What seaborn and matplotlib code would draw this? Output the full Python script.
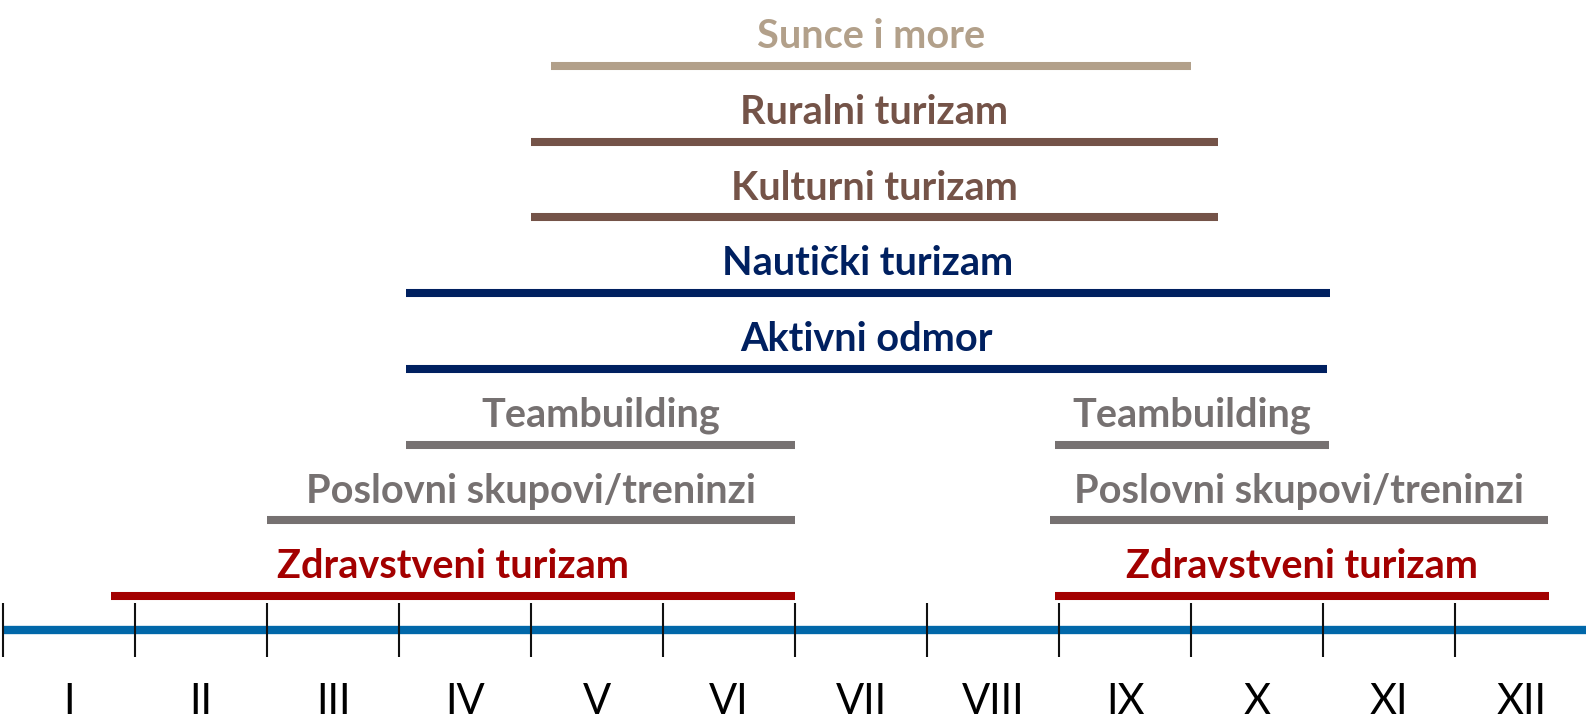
import matplotlib
matplotlib.use("Agg")
import matplotlib.pyplot as plt
import numpy as np
import pandas as pd
import seaborn as sns

# aktivnosti po redovima (odozgo prema dolje)
aktivnosti = ["Sunce i more", "Ruralni turizam", "Kulturni turizam", "Nautički turizam",
              "Aktivni odmor", "Teambuilding", "Poslovni skupovi/treninzi", "Zdravstveni turizam"]
boje = ["#B2A08A", "#745348", "#745348", "#002060",
        "#002060", "#767171", "#767171", "#A30000"]

# sezone (u mjesecima, 0 = pocetak sijecnja)
seg_aktivnost = ["Sunce i more", "Ruralni turizam", "Kulturni turizam", "Nautički turizam",
                 "Aktivni odmor", "Teambuilding", "Poslovni skupovi/treninzi", "Zdravstveni turizam",
                 "Teambuilding", "Poslovni skupovi/treninzi", "Zdravstveni turizam"]
seg_pocetak = [4.15, 4.0, 4.0, 3.05, 3.05, 3.05, 2.0, 0.82, 7.97, 7.93, 7.97]
seg_kraj = [9.0, 9.2, 9.2, 10.05, 10.03, 6.0, 6.0, 6.0, 10.04, 11.7, 11.71]

mjeseci = ["I", "II", "III", "IV", "V", "VI", "VII", "VIII", "IX", "X", "XI", "XII"]

OS_Y = 0.553
razina = {a: len(aktivnosti) - i for i, a in enumerate(aktivnosti)}
paleta = dict(zip(aktivnosti, boje))

redovi = []
for i, (a, p, k) in enumerate(zip(seg_aktivnost, seg_pocetak, seg_kraj)):
    redovi.append({"seg": i, "aktivnost": a, "mjesec": p, "razina": razina[a]})
    redovi.append({"seg": i, "aktivnost": a, "mjesec": k, "razina": razina[a]})
df = pd.DataFrame(redovi)

sns.set_style("white")
plt.rcParams["font.family"] = ["Lato", "DejaVu Sans"]

fig = plt.figure(figsize=(15.86, 7.24), dpi=100)
ax = fig.add_axes([0, 0, 1, 1])

# vremenska os
ax.plot([0, 12.2], [OS_Y, OS_Y], color="#0067A9", lw=6, solid_capstyle="butt", zorder=1)
ax.vlines(np.arange(len(mjeseci)), OS_Y - 0.36, OS_Y + 0.36, color="#111111", lw=1.5, zorder=2)
for i, m in enumerate(mjeseci):
    ax.annotate(m, (i + 0.5, OS_Y), xytext=(0, -60.5), textcoords="offset points",
                ha="center", va="baseline", fontsize=30, color="black")

sns.lineplot(data=df, x="mjesec", y="razina", hue="aktivnost", units="seg",
             estimator=None, palette=paleta, linewidth=5.8, legend=False,
             sort=False, ax=ax)
for line in ax.lines:
    line.set_solid_capstyle("butt")

for a, p, k in zip(seg_aktivnost, seg_pocetak, seg_kraj):
    ax.annotate(a, ((p + k) / 2, razina[a]), xytext=(0, 21), textcoords="offset points",
                ha="center", va="center", fontsize=28.5, fontweight="bold", color=paleta[a])

ax.set_xlim(-0.023, 11.99)
ax.set_ylim(-0.692, 8.872)
ax.axis("off")

fig.savefig("out.png", dpi=100)
